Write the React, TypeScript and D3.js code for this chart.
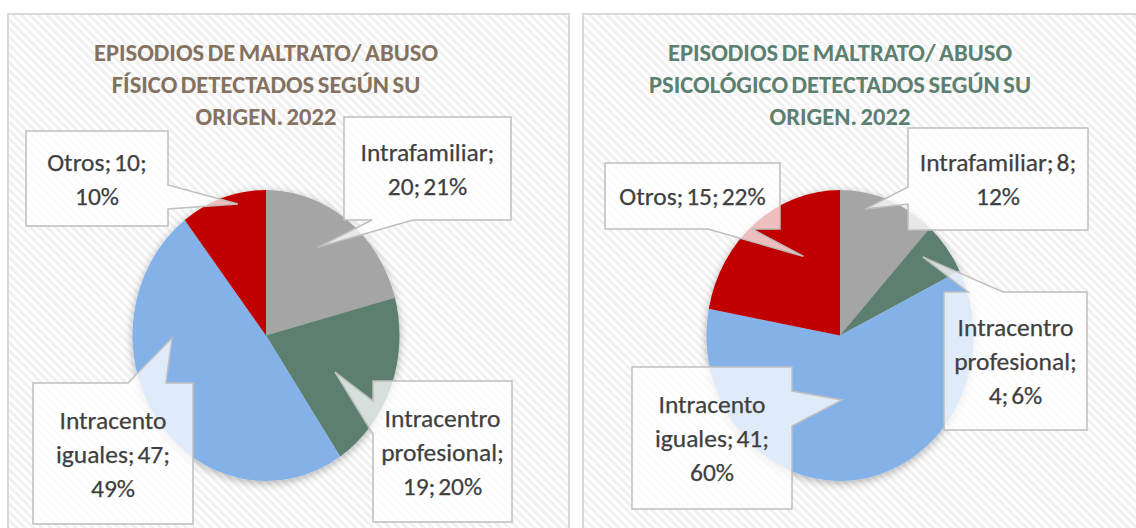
import React from "react";
import * as d3 from "d3";

// data
const categories = ["Intrafamiliar", "Intracentro profesional", "Intracento iguales", "Otros"];
const valuesFisico = [20, 19, 47, 10];
const valuesPsico = [8, 4, 41, 15];
const colors = ["#A5A5A5", "#5B7F6F", "#85B1E9", "#C00000"];

const titleFisico = ["EPISODIOS DE MALTRATO/ ABUSO", "FÍSICO DETECTADOS SEGÚN SU", "ORIGEN. 2022"];
const titlePsico = ["EPISODIOS DE MALTRATO/ ABUSO", "PSICOLÓGICO DETECTADOS SEGÚN SU", "ORIGEN. 2022"];

// callout layout: box [x, y, w, h], edge carrying the pointer, pointer base on that edge,
// pointer tip as angle offset (deg) from slice middle and fraction of radius, words per line
type Callout = { box: number[]; side: string; base: number[]; da: number; rf: number; words: number[] };

const calloutsFisico: Callout[] = [
  { box: [344, 117, 167, 103], side: "bottom", base: [372, 413], da: -4.8, rf: 0.72, words: [1, 2] },
  { box: [373, 381, 139, 141], side: "left", base: [401, 434], da: 5.3, rf: 0.575, words: [1, 1, 2] },
  { box: [33, 383, 160, 141], side: "top", base: [128, 166], da: 34.2, rf: 0.704, words: [1, 2, 1] },
  { box: [26, 131, 142, 95], side: "right", base: [185, 209], da: 5.6, rf: 0.928, words: [2, 1] },
];
const calloutsPsico: Callout[] = [
  { box: [908, 128, 180, 102], side: "left", base: [187, 204], da: -9, rf: 0.889, words: [2, 1] },
  { box: [944, 292, 143, 138], side: "top", base: [968, 1003], da: -4, rf: 0.823, words: [1, 1, 2] },
  { box: [632, 367, 160, 142], side: "right", base: [391, 426], da: 6, rf: 0.443, words: [1, 2, 1] },
  { box: [605, 163, 175, 66], side: "bottom", base: [708, 752], da: 13, rf: 0.609, words: [3] },
];

const W = 1136;
const H = 528;
const RX = 133.5;
const RY = 145.5;
const FONT = "Carlito, Lato, 'Open Sans', sans-serif";

function calloutPath(c: Callout, tip: number[]) {
  const [x, y, w, h] = c.box;
  const [a, b] = c.base;
  const t = `L${tip[0]},${tip[1]}`;
  let p = `M${x},${y}`;
  if (c.side === "top") p += `L${a},${y}${t}L${b},${y}`;
  p += `L${x + w},${y}`;
  if (c.side === "right") p += `L${x + w},${a}${t}L${x + w},${b}`;
  p += `L${x + w},${y + h}`;
  if (c.side === "bottom") p += `L${b},${y + h}${t}L${a},${y + h}`;
  p += `L${x},${y + h}`;
  if (c.side === "left") p += `L${x},${b}${t}L${x},${a}`;
  return p + "Z";
}

const PieChart = ({ cx, values, title, titleColor, callouts }: any) => {
  const total = d3.sum(values);
  const pie = d3.pie<number>().sort(null).value((d) => d);
  const arcs = pie(values);
  const arc = d3.arc<d3.PieArcDatum<number>>().innerRadius(0).outerRadius(RX);
  const cy = 335.5;
  const sy = RY / RX;

  return (
    <g>
      {title.map((t: string, i: number) => (
        <text key={i} x={cx} y={60.5 + i * 32} textAnchor="middle" fontFamily={FONT}
          fontWeight="bold" fontSize={24.6} wordSpacing={-2} fill={titleColor}>{t}</text>
      ))}
      <g transform={`translate(${cx},${cy}) scale(1,${sy})`} filter="url(#shadow)">
        {arcs.map((d, i) => (
          <path key={i} d={arc(d) as string} fill={colors[i]} />
        ))}
      </g>
      {arcs.map((d, i) => {
        const c = callouts[i];
        const ang = ((d.startAngle + d.endAngle) / 2) + (c.da * Math.PI) / 180;
        const tip = [cx + Math.sin(ang) * RX * c.rf, cy - Math.cos(ang) * RY * c.rf];
        const pct = Math.round((values[i] / total) * 100);
        const words = `${categories[i]}; ${values[i]}; ${pct}%`.split(" ");
        const lines: string[] = [];
        let k = 0;
        c.words.forEach((n: number) => { lines.push(words.slice(k, k + n).join(" ")); k += n; });
        const [bx, by, bw, bh] = c.box;
        const lh = 34;
        return (
          <g key={"c" + i}>
            <path d={calloutPath(c, tip)} fill="#fff" fillOpacity={0.75} stroke="#BFBFBF" strokeWidth={1.5} />
            {lines.map((l, j) => (
              <text key={j} x={bx + bw / 2} y={by + bh / 2 + (j - (lines.length - 1) / 2) * lh + 9}
                textAnchor="middle" fontFamily={FONT} fontSize={25.5} wordSpacing={-3} fill="#3F3F3F"
                stroke="#3F3F3F" strokeWidth={0.25}>{l}</text>
            ))}
          </g>
        );
      })}
    </g>
  );
};

export default function App() {
  return (
    <svg width={W} height={H} style={{ position: "absolute", left: 0, top: 0, background: "#fff" }}>
      <defs>
        <pattern id="hatch" width={6} height={6} patternUnits="userSpaceOnUse" patternTransform="rotate(45)">
          <rect width={6} height={6} fill="#FFFFFF" />
          <rect width={6} height={3} fill="#F1F1F1" />
        </pattern>
        <filter id="shadow" x="-20%" y="-20%" width="140%" height="140%">
          <feDropShadow dx={0} dy={2} stdDeviation={4} floodColor="#000" floodOpacity={0.3} />
        </filter>
      </defs>
      <rect x={8} y={14} width={561} height={540} fill="url(#hatch)" stroke="#D9D9D9" strokeWidth={2} />
      <rect x={583} y={14} width={600} height={540} fill="url(#hatch)" stroke="#D9D9D9" strokeWidth={2} />
      <PieChart cx={266} values={valuesFisico} title={titleFisico} titleColor="#84715F" callouts={calloutsFisico} />
      <PieChart cx={840} values={valuesPsico} title={titlePsico} titleColor="#5B8070" callouts={calloutsPsico} />
    </svg>
  );
}
